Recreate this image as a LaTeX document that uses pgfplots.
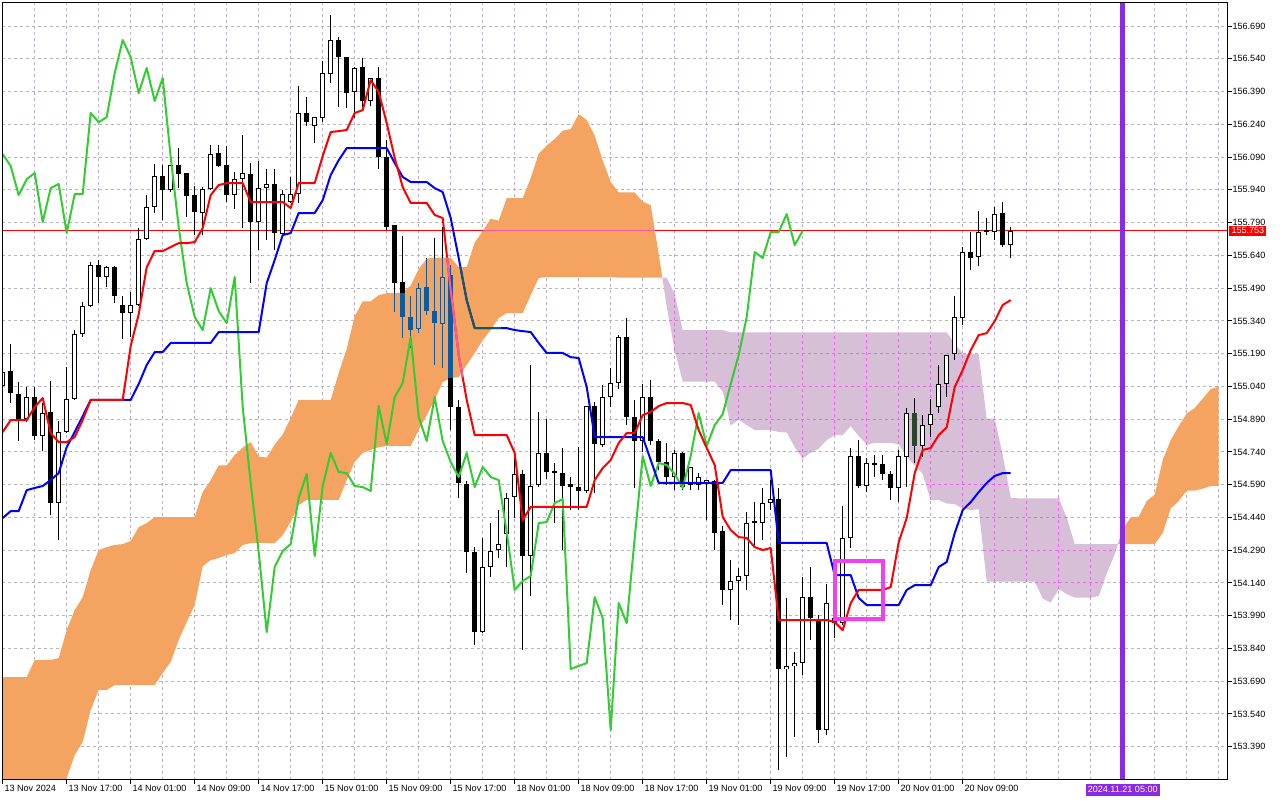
\documentclass[border=0pt]{standalone}
\usepackage{pgfplots}
\pgfplotsset{compat=1.18}
\usepackage{pgfplotstable}
\usepackage{fontspec}
\setmainfont{Liberation Sans}

\definecolor{cloudA}{RGB}{244,164,96}
\definecolor{cloudB}{RGB}{216,191,216}
\definecolor{tenkan}{RGB}{255,0,0}
\definecolor{kijun}{RGB}{0,0,255}
\definecolor{chikou}{RGB}{50,205,50}
\definecolor{gridx}{RGB}{190,172,200}
\definecolor{gridy}{RGB}{176,186,176}
\definecolor{incloud}{RGB}{11,91,159}
\definecolor{pinkline}{RGB}{250,90,160}
\definecolor{tealline}{RGB}{20,90,95}
\definecolor{vline}{RGB}{138,43,226}
\definecolor{magbox}{RGB}{240,64,240}
\definecolor{maggrid}{RGB}{240,100,240}
\definecolor{lilacdark}{RGB}{40,72,40}

% candles: bar index, open, high, low, close (H1, 13 Nov 09:00 = 0)
\pgfplotstableread{
k o h l c
0 155.042 155.138 155.014 155.106
1 155.110 155.234 154.964 155.010
2 155.005 155.060 154.790 154.891
3 154.891 155.037 154.877 154.991
4 154.991 155.037 154.794 154.813
5 154.813 154.964 154.744 154.918
6 154.923 155.065 154.451 154.506
7 154.506 154.881 154.336 154.831
8 154.831 155.129 154.826 154.982
9 154.982 155.298 154.978 155.280
10 155.280 155.426 155.266 155.408
11 155.408 155.609 155.403 155.596
12 155.596 155.619 155.422 155.541
13 155.541 155.591 155.495 155.586
14 155.586 155.591 155.422 155.454
15 155.413 155.454 155.257 155.376
16 155.376 155.472 155.266 155.413
17 155.413 155.765 155.410 155.715
18 155.715 155.916 155.710 155.861
19 155.861 156.058 155.834 156.003
20 156.003 156.054 155.802 155.939
21 155.939 156.056 155.930 156.054
22 156.054 156.131 155.948 156.012
23 156.017 156.019 155.815 155.912
24 155.916 155.957 155.733 155.838
25 155.834 155.953 155.733 155.944
26 155.944 156.145 155.939 156.104
27 156.109 156.145 156.044 156.049
28 156.054 156.141 155.884 155.916
29 155.916 156.021 155.852 155.989
30 155.989 156.191 155.765 156.017
31 156.012 156.063 155.513 155.793
32 155.793 156.072 155.664 155.948
33 155.948 156.035 155.710 155.967
34 155.967 156.035 155.664 155.742
35 155.738 155.939 155.733 155.921
36 155.884 155.999 155.880 155.921
37 155.921 156.415 155.880 156.292
38 156.292 156.365 156.232 156.250
39 156.232 156.275 156.154 156.273
40 156.269 156.530 156.250 156.475
41 156.470 156.740 156.429 156.626
42 156.626 156.640 156.319 156.548
43 156.548 156.550 156.314 156.383
44 156.388 156.502 156.269 156.498
45 156.502 156.543 156.319 156.347
46 156.347 156.454 156.324 156.452
47 156.452 156.502 156.035 156.090
48 156.090 156.168 155.756 155.770
49 155.779 155.781 155.380 155.513
50 155.518 155.728 155.261 155.358
51 155.358 155.454 155.216 155.298
52 155.303 155.513 155.284 155.490
53 155.495 155.628 155.367 155.385
54 155.385 155.719 155.138 155.330
55 155.326 155.770 155.124 155.541
56 155.550 155.596 154.840 154.945
57 154.945 154.978 154.529 154.598
58 154.593 154.607 154.185 154.282
59 154.282 154.304 153.856 153.915
60 153.915 154.346 153.911 154.213
61 154.213 154.414 154.167 154.286
62 154.291 154.474 154.254 154.318
63 154.364 154.552 154.213 154.529
64 154.533 154.735 154.437 154.639
65 154.639 154.657 153.833 154.263
66 154.263 155.138 154.080 154.584
67 154.588 154.923 154.579 154.735
68 154.735 154.891 154.616 154.648
69 154.652 154.689 154.414 154.643
70 154.643 154.758 154.291 154.584
71 154.593 154.625 154.474 154.579
72 154.579 154.762 154.474 154.561
73 154.561 154.952 154.552 154.950
74 154.950 154.968 154.552 154.776
75 154.771 155.046 154.762 154.991
76 154.991 155.124 154.945 155.055
77 155.055 155.275 155.028 155.266
78 155.266 155.353 154.863 154.900
79 154.900 154.978 154.575 154.790
80 154.790 155.051 154.739 154.991
81 154.991 155.069 154.771 154.790
82 154.790 154.799 154.657 154.694
83 154.694 154.781 154.588 154.625
84 154.625 154.749 154.565 154.735
85 154.735 154.739 154.565 154.579
86 154.588 154.673 154.565 154.671
87 154.588 154.643 154.565 154.625
88 154.598 154.613 154.428 154.611
89 154.611 154.613 154.291 154.373
90 154.378 154.401 154.039 154.108
91 154.108 154.245 153.970 154.149
92 154.149 154.208 153.947 154.172
93 154.172 154.465 154.108 154.414
94 154.423 154.510 154.300 154.419
95 154.414 154.575 154.336 154.506
96 154.506 154.611 154.474 154.524
97 154.524 154.575 153.283 153.746
98 153.746 154.071 153.343 153.760
99 153.760 153.824 153.434 153.773
100 153.773 154.167 153.718 154.075
101 154.075 154.213 153.879 153.979
102 153.975 153.993 153.407 153.466
103 153.466 154.135 153.444 154.048
104 153.979 154.140 153.888 153.956
105 153.956 154.492 153.947 154.346
106 154.346 154.758 154.300 154.721
107 154.721 154.794 154.575 154.584
108 154.584 154.712 154.556 154.689
109 154.689 154.726 154.625 154.680
110 154.685 154.726 154.611 154.639
111 154.639 154.652 154.520 154.575
112 154.575 154.749 154.510 154.721
113 154.716 154.941 154.579 154.918
114 154.918 154.987 154.689 154.767
115 154.767 154.909 154.716 154.863
116 154.863 154.982 154.808 154.913
117 154.945 155.138 154.918 155.051
118 155.051 155.186 154.991 155.184
119 155.188 155.454 155.161 155.358
120 155.353 155.678 155.321 155.655
121 155.655 155.747 155.573 155.628
122 155.632 155.843 155.591 155.747
123 155.756 155.811 155.733 155.747
124 155.747 155.861 155.710 155.829
125 155.834 155.884 155.678 155.687
126 155.687 155.770 155.628 155.753
}\candles

% parts of candles lying inside the orange cloud
\pgfplotstableread{
k h l
49 155.467 155.380
50 155.470 155.261
51 155.454 155.216
52 155.513 155.284
53 155.625 155.367
54 155.630 155.138
55 155.630 155.124
56 155.596 155.078
}\cloudwicks
\pgfplotstableread{
k o c
50 155.470 155.358
51 155.358 155.298
53 155.495 155.385
54 155.385 155.330
56 155.550 155.078
}\cloudbear
\pgfplotstableread{
k o c
52 155.303 155.490
55 155.326 155.541
}\cloudbull

% Tenkan-sen
\pgfplotstableread{
k v
0 154.831
1 154.886
3 154.886
4 154.945
5 154.987
6 154.826
7 154.785
8 154.785
9 154.808
10 154.886
11 154.978
15 154.978
16 155.225
17 155.371
18 155.586
19 155.660
20 155.660
21 155.678
22 155.696
23 155.696
24 155.701
25 155.765
26 155.916
27 155.962
28 155.971
30 155.971
31 155.884
35 155.884
36 155.857
37 155.971
39 155.971
40 156.095
41 156.205
42 156.209
43 156.214
44 156.292
45 156.305
46 156.443
47 156.388
48 156.246
49 156.086
50 155.953
51 155.880
53 155.880
54 155.825
55 155.811
56 155.481
57 155.184
58 154.978
59 154.817
63 154.817
64 154.735
65 154.428
66 154.488
73 154.488
74 154.611
75 154.666
76 154.703
77 154.781
78 154.826
79 154.826
80 154.909
81 154.923
82 154.950
83 154.964
85 154.964
86 154.955
87 154.840
88 154.758
89 154.680
90 154.442
91 154.382
92 154.350
93 154.346
94 154.304
95 154.291
96 154.300
97 153.970
103 153.970
104 153.961
105 153.924
106 154.048
107 154.108
110 154.108
111 154.121
112 154.327
113 154.437
114 154.643
115 154.749
116 154.758
117 154.817
118 154.853
119 155.037
120 155.115
121 155.206
122 155.275
123 155.284
124 155.339
125 155.413
126 155.435
}\tenkan

% Kijun-sen
\pgfplotstableread{
k v
0 154.437
1 154.469
2 154.469
3 154.565
4 154.575
5 154.584
6 154.611
7 154.643
8 154.762
9 154.831
10 154.904
11 154.978
16 154.978
17 155.051
18 155.138
19 155.197
20 155.197
21 155.239
26 155.239
27 155.289
32 155.289
33 155.513
34 155.619
35 155.733
36 155.742
37 155.834
39 155.834
40 155.893
41 156.008
42 156.076
43 156.131
48 156.131
49 156.063
50 155.999
51 155.976
53 155.976
54 155.948
55 155.930
56 155.811
57 155.628
58 155.435
59 155.307
63 155.307
64 155.298
65 155.293
66 155.289
67 155.239
68 155.193
70 155.193
71 155.174
72 155.170
73 155.037
74 154.808
80 154.808
81 154.703
82 154.598
90 154.598
91 154.657
96 154.657
97 154.323
103 154.323
104 154.176
106 154.176
107 154.071
108 154.039
112 154.039
113 154.108
114 154.130
116 154.130
117 154.213
118 154.236
119 154.368
120 154.474
121 154.510
122 154.556
123 154.598
124 154.630
125 154.643
126 154.643
}\kijun

% Chikou span
\pgfplotstableread{
k v
0 156.104
1 156.049
2 155.916
3 155.989
4 156.017
5 155.793
6 155.948
7 155.967
8 155.742
9 155.921
10 155.921
11 156.292
12 156.250
13 156.273
14 156.475
15 156.626
16 156.548
17 156.383
18 156.498
19 156.347
20 156.452
21 156.090
22 155.770
23 155.513
24 155.358
25 155.298
26 155.490
27 155.385
28 155.330
29 155.541
30 154.945
31 154.598
32 154.282
33 153.915
34 154.213
35 154.286
36 154.318
37 154.529
38 154.639
39 154.263
40 154.584
41 154.735
42 154.648
43 154.643
44 154.584
45 154.579
46 154.561
47 154.950
48 154.776
49 154.991
50 155.055
51 155.266
52 154.900
53 154.790
54 154.991
55 154.790
56 154.694
57 154.625
58 154.735
59 154.579
60 154.671
61 154.625
62 154.611
63 154.373
64 154.108
65 154.149
66 154.172
67 154.414
68 154.419
69 154.506
70 154.524
71 153.746
72 153.760
73 153.773
74 154.075
75 153.979
76 153.466
77 154.048
78 153.956
79 154.346
80 154.721
81 154.584
82 154.689
83 154.680
84 154.639
85 154.575
86 154.721
87 154.918
88 154.767
89 154.863
90 154.913
91 155.051
92 155.184
93 155.358
94 155.655
95 155.628
96 155.747
97 155.747
98 155.829
99 155.687
100 155.753
}\chikou

% Kumo, bullish part (span A above span B), outline
\pgfplotstableread{
x y
-0.5 153.709
3 153.709
4 153.787
6 153.787
7 153.796
8 153.924
9 154.016
10 154.075
11 154.199
12 154.291
13 154.304
14 154.314
15 154.318
16 154.332
17 154.396
18 154.414
19 154.442
24 154.442
25 154.556
26 154.611
27 154.678
28 154.678
29 154.726
30 154.760
31 154.785
32 154.719
33 154.714
34 154.774
35 154.820
36 154.895
37 154.978
41 154.978
42 155.101
43 155.211
44 155.362
45 155.429
46 155.429
47 155.458
48 155.467
49 155.467
50 155.470
51 155.502
52 155.577
53 155.625
54 155.630
56 155.630
57 155.586
58 155.586
59 155.699
60 155.751
61 155.808
62 155.799
63 155.902
65 155.902
66 155.994
67 156.106
68 156.143
69 156.173
70 156.211
71 156.218
72 156.287
73 156.260
74 156.189
75 156.074
76 155.976
77 155.928
79 155.928
80 155.886
81 155.870
82 155.646
82.448 155.538
77 155.538
76 155.541
68 155.541
67 155.536
66 155.458
65 155.376
63 155.376
62 155.353
61 155.298
60 155.252
59 155.193
58 155.138
57 155.083
56 155.078
55 155.060
54 154.978
53 154.909
52 154.840
51 154.767
48 154.767
47 154.762
46 154.749
45 154.735
44 154.694
43 154.611
42 154.520
38 154.520
37 154.497
36 154.419
35 154.359
34 154.323
31 154.323
30 154.314
29 154.277
28 154.268
27 154.254
26 154.245
25 154.217
24 154.039
23 153.961
22 153.879
21 153.778
20 153.728
19 153.672
14 153.672
13 153.650
12 153.650
11 153.558
10 153.412
9 153.352
8 153.247
7 153.192
-0.5 153.192
}\kumoup

% Kumo, bearish part (span B above span A)
\pgfplotstableread{
x y
82.448 155.538
83 155.538
84 155.463
85 155.298
90 155.298
91 155.287
118 155.287
119 155.236
120 155.190
121 155.188
122 155.188
123 154.893
124 154.893
125 154.726
126 154.531
127 154.527
132 154.527
133 154.440
134 154.318
139.4 154.318
139 154.272
138 154.183
137 154.080
136 154.073
134 154.073
133 154.089
132 154.112
131 154.050
130 154.069
129 154.146
123 154.146
122 154.478
121 154.474
120 154.481
119 154.501
118 154.504
117 154.520
116 154.520
115 154.639
114 154.678
113 154.719
112 154.776
111 154.781
109 154.781
108 154.774
107 154.813
106 154.858
105 154.817
104 154.817
103 154.794
102 154.755
101 154.737
100 154.710
99 154.762
98 154.829
97 154.831
96 154.840
94 154.840
93 154.863
92 154.888
91 154.861
90 155.016
89 155.062
85 155.062
84 155.206
83 155.406
}\kumodown

% Kumo, future bullish part
\pgfplotstableread{
x y
139.4 154.318
140 154.387
141 154.440
142 154.444
143 154.515
144 154.545
145 154.703
146 154.794
147 154.858
148 154.916
149 154.941
150 154.984
151 155.028
152 155.039
152 154.584
151 154.584
150 154.572
149 154.563
148 154.563
147 154.515
146 154.481
145 154.369
144 154.318
140 154.318
}\kumofut

\pgfplotsset{
  cbar/.style 2 args={draw=none, mark=none, forget plot,
    error bars/y dir=both, error bars/y explicit,
    error bars/error mark=none,
    error bars/error bar style={line width=#1, draw=#2, solid, line cap=butt}},
}

\begin{document}
\begin{tikzpicture}[font=\fontsize{6.8}{8}\selectfont]
\useasboundingbox (-1.875pt,-15.375pt) rectangle (958.125pt,584.625pt);
\begin{axis}[
  name=ax, at={(0,0)}, anchor=south west,
  scale only axis, width=918.75pt, height=582.75pt,
  xmin=-0.025, xmax=153.1, ymin=153.240, ymax=156.798,
  clip mode=individual,
  axis line style={black, line width=0.75pt},
  xtick={0,8,...,120},
  xticklabels={13 Nov 2024,13 Nov 17:00,14 Nov 01:00,14 Nov 09:00,14 Nov 17:00,15 Nov 01:00,15 Nov 09:00,15 Nov 17:00,18 Nov 01:00,18 Nov 09:00,18 Nov 17:00,19 Nov 01:00,19 Nov 09:00,19 Nov 17:00,20 Nov 01:00,20 Nov 09:00},
  minor xtick={4,12,20,28,36,44,52,60,68,76,84,92,100,108,116,124,128,132,136,140,144,148,152},
  ytick={153.39,153.54,153.69,153.84,153.99,154.14,154.29,154.44,154.59,154.74,154.89,155.04,155.19,155.34,155.49,155.64,155.79,155.94,156.09,156.24,156.39,156.54,156.69},
  yticklabels={153.390,153.540,153.690,153.840,153.990,154.140,154.290,154.440,154.590,154.740,154.890,155.040,155.190,155.340,155.490,155.640,155.790,155.940,156.090,156.240,156.390,156.540,156.690},
  xtick pos=bottom, ytick pos=right, yticklabel pos=right,
  tick align=outside, major tick length=3pt, minor tick length=0pt,
  tick style={black, line width=0.75pt},
  tick label style={font=\fontsize{6.8}{8}\selectfont, inner sep=0pt},
  xticklabel style={anchor=north west, xshift=1.2pt, yshift=-1.2pt},
  yticklabel style={anchor=west, xshift=0.6pt},
  xmajorgrids, xminorgrids, ymajorgrids,
  x grid style={gridx, line width=0.75pt, dash pattern=on 2.25pt off 2.25pt},
  y grid style={gridy, line width=0.75pt, dash pattern=on 2.25pt off 2.25pt},
]

% Kumo
\addplot[fill=cloudA, draw=none, forget plot] table[x=x,y=y] {\kumoup};
\addplot[fill=cloudB, draw=none, forget plot] table[x=x,y=y] {\kumodown};
\addplot[fill=cloudA, draw=none, forget plot] table[x=x,y=y] {\kumofut};

% grid seen through the bearish cloud
\addplot[maggrid, line width=0.75pt, dash pattern=on 2.25pt off 2.25pt, unbounded coords=jump, forget plot] coordinates {
(84,155.206) (84,155.463) (84,nan)
(88,155.062) (88,155.298) (88,nan)
(92,154.888) (92,155.287) (92,nan)
(96,154.840) (96,155.287) (96,nan)
(100,154.710) (100,155.287) (100,nan)
(104,154.817) (104,155.287) (104,nan)
(108,154.774) (108,155.287) (108,nan)
(112,154.776) (112,155.287) (112,nan)
(116,154.520) (116,155.287) (116,nan)
(120,154.481) (120,155.190) (120,nan)
(124,154.146) (124,154.893) (124,nan)
(128,154.146) (128,154.527) (128,nan)
(132,154.112) (132,154.527) (132,nan)
(136,154.073) (136,154.318) (136,nan)
(83.33,155.34) (84.75,155.34) (84.75,nan)
(84.11,155.19) (120,155.19) (120,nan)
(89.5,155.04) (122.5,155.04) (122.5,nan)
(90.8,154.89) (124.0,154.89) (124.0,nan)
(99.42,154.74) (101.17,154.74) (101.17,nan)
(112.63,154.74) (124.92,154.74) (124.92,nan)
(115.41,154.59) (125.70,154.59) (125.70,nan)
(122.11,154.44) (133.0,154.44) (133.0,nan)
(122.57,154.29) (139.16,154.29) (139.16,nan)
(129.08,154.14) (137.58,154.14)
};

% current price line
\addplot[tenkan, line width=0.75pt, forget plot] coordinates {(-1,155.753) (154,155.753)};
\addplot[pinkline, line width=0.75pt, forget plot] coordinates {(60,155.753) (81.52,155.753)};

% vertical time marker
\addplot[vline, line width=3.75pt, forget plot] coordinates {(140,153.0) (140,157.0)};

% candles: wicks, bodies, hollow interiors of bullish bodies
\addplot[cbar={0.75pt}{black}] table[x=k, y expr={(\thisrow{h}+\thisrow{l})/2}, y error expr={(\thisrow{h}-\thisrow{l})/2}] {\candles};
\addplot[cbar={3.75pt}{black}] table[x=k, y expr={(\thisrow{o}+\thisrow{c})/2}, y error expr={max(abs(\thisrow{o}-\thisrow{c})/2,0.0023)}] {\candles};
\addplot[cbar={2.25pt}{white}] table[x=k, y expr={(\thisrow{o}+\thisrow{c})/2}, y error expr={max((\thisrow{c}-\thisrow{o})/2-0.00458,0)}] {\candles};

% candle parts inside the cloud
\addplot[cbar={0.75pt}{incloud}] table[x=k, y expr={(\thisrow{h}+\thisrow{l})/2}, y error expr={(\thisrow{h}-\thisrow{l})/2}] {\cloudwicks};
\addplot[cbar={3.75pt}{incloud}] table[x=k, y expr={(\thisrow{o}+\thisrow{c})/2}, y error expr={abs(\thisrow{o}-\thisrow{c})/2}] {\cloudbear};
\addplot[cbar={3.75pt}{incloud}] table[x=k, y expr={(\thisrow{o}+\thisrow{c})/2}, y error expr={abs(\thisrow{o}-\thisrow{c})/2}] {\cloudbull};
\addplot[cbar={2.25pt}{cloudA}] table[x=k, y expr={(\thisrow{o}+\thisrow{c})/2}, y error expr={(\thisrow{c}-\thisrow{o})/2-0.00458}] {\cloudbull};
\addplot[cbar={3.75pt}{lilacdark}] coordinates {(114,154.8425) +- (0,0.0755)};

% Ichimoku lines
\addplot[chikou, line width=1.5pt, line join=round, forget plot] table[x=k,y=v] {\chikou};
\addplot[kijun, line width=1.5pt, line join=round, forget plot] table[x=k,y=v] {\kijun};
\addplot[tenkan, line width=1.5pt, line join=round, forget plot] table[x=k,y=v] {\tenkan};
\addplot[tealline, line width=1.5pt, line join=round, forget plot] coordinates {(57.22,155.586) (58,155.435) (59,155.307) (62.3,155.307)};
\addplot[pinkline, line width=1.5pt, line join=round, forget plot] coordinates {(55.55,155.630) (56,155.481) (57,155.184) (57.49,155.083)};

% highlighted box
\addplot[magbox, line width=3pt, line join=miter, forget plot] coordinates {(104,154.239) (110,154.239) (110,153.976) (104,153.976)} --cycle;

\coordinate (pl) at (axis cs:153.1,155.753);
\coordinate (dl) at (axis cs:140,153.240);
\end{axis}
\draw[black, line width=0.75pt] (ax.south west) rectangle (ax.north east);
\node[fill=red, text=white, inner xsep=1.6pt, inner ysep=0pt, minimum height=7.5pt, anchor=west, font=\fontsize{6.8}{8}\selectfont] at ([xshift=1.2pt]pl) {155.753};
\node[fill=vline, text=white, inner xsep=1.6pt, inner ysep=0pt, minimum height=8.5pt, anchor=north, font=\fontsize{6.8}{8}\selectfont] at ([yshift=-3.3pt]dl) {2024.11.21 05:00};
\end{tikzpicture}
\end{document}
